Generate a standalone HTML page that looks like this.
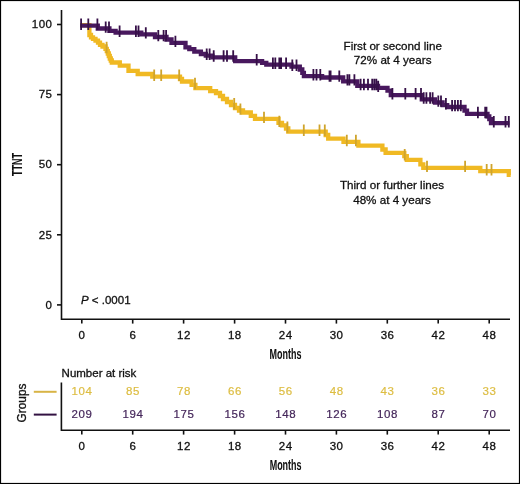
<!DOCTYPE html><html><head><meta charset="utf-8"><style>html,body{margin:0;padding:0;background:#fff;}svg{display:block;will-change:transform;}text{font-family:"Liberation Sans",sans-serif;}</style></head><body>
<svg width="520" height="484" viewBox="0 0 520 484">
<rect x="0" y="0" width="520" height="484" fill="#fff"/>
<rect x="0.5" y="0.5" width="519" height="483" fill="none" stroke="#000" stroke-width="1.2"/>
<g stroke="#111" stroke-width="1.6" fill="none">
<path d="M61.5 10 V319.2 H510"/>
<path d="M57 24.5 H61.4"/>
<path d="M57 94.6 H61.4"/>
<path d="M57 164.7 H61.4"/>
<path d="M57 234.8 H61.4"/>
<path d="M57 304.9 H61.4"/>
<path d="M81.8 319.2 V323.6"/>
<path d="M132.7 319.2 V323.6"/>
<path d="M183.6 319.2 V323.6"/>
<path d="M234.6 319.2 V323.6"/>
<path d="M285.5 319.2 V323.6"/>
<path d="M336.4 319.2 V323.6"/>
<path d="M387.3 319.2 V323.6"/>
<path d="M438.2 319.2 V323.6"/>
<path d="M489.2 319.2 V323.6"/>
</g>
<g font-size="11.5" fill="#111" stroke="#111" stroke-width="0.3" text-anchor="end" letter-spacing="0.5">
<text x="52.5" y="28.2">100</text>
<text x="52.5" y="98.3">75</text>
<text x="52.5" y="168.4">50</text>
<text x="52.5" y="238.5">25</text>
<text x="52.5" y="308.6">0</text>
</g>
<g font-size="11.5" fill="#111" stroke="#111" stroke-width="0.3" text-anchor="middle" letter-spacing="0.5">
<text x="82.0" y="339">0</text>
<text x="133.0" y="339">6</text>
<text x="183.9" y="339">12</text>
<text x="234.8" y="339">18</text>
<text x="285.7" y="339">24</text>
<text x="336.6" y="339">30</text>
<text x="387.6" y="339">36</text>
<text x="438.5" y="339">42</text>
<text x="489.4" y="339">48</text>
</g>
<text font-size="14.6" font-weight="bold" fill="#111" stroke="#111" stroke-width="0.05" text-anchor="middle" transform="translate(285.5 358.7) scale(0.615 1)">Months</text>
<text font-size="14.6" font-weight="bold" fill="#111" stroke="#111" stroke-width="0.05" text-anchor="middle" transform="translate(22.4 164.5) rotate(-90) scale(0.615 1)">TTNT</text>
<text x="81" y="303.8" font-size="11.5" fill="#111" stroke="#111" stroke-width="0.3"><tspan font-style="italic">P</tspan> &lt; .0001</text>
<g font-size="11.65" fill="#111" stroke="#111" stroke-width="0.3" text-anchor="middle">
<text x="392.7" y="49.7">First or second line</text>
<text x="392.7" y="64.2">72% at 4 years</text>
<text x="392" y="189">Third or further lines</text>
<text x="392" y="203.8">48% at 4 years</text>
</g>
<path d="M80.3 25.2 L89.4 25.2 L89.4 35.0 L91.0 35.0 L91.0 37.3 L93.0 37.3 L93.0 38.9 L95.5 38.9 L95.5 40.7 L98.0 40.7 L98.0 42.6 L100.0 42.6 L100.0 44.8 L102.5 44.8 L102.5 46.5 L105.5 46.5 L105.5 48.9 L106.8 48.9 L106.8 51.2 L107.8 51.2 L107.8 53.5 L108.8 53.5 L108.8 56.0 L109.8 56.0 L109.8 58.5 L110.8 58.5 L110.8 60.5 L111.8 60.5 L111.8 62.5 L119.8 62.5 L119.8 65.7 L128.5 65.7 L128.5 70.9 L137.7 70.9 L137.7 74.0 L152.3 74.0 L152.3 76.6 L180.0 76.6 L180.0 79.0 L182.0 79.0 L182.0 81.5 L191.6 81.5 L191.6 84.9 L195.4 84.9 L195.4 88.2 L210.2 88.2 L210.2 91.2 L216.0 91.2 L216.0 93.0 L220.0 93.0 L220.0 96.0 L223.0 96.0 L223.0 99.0 L227.0 99.0 L227.0 102.0 L231.0 102.0 L231.0 105.0 L235.0 105.0 L235.0 108.0 L239.0 108.0 L239.0 110.5 L243.0 110.5 L243.0 112.5 L250.8 112.5 L250.8 115.8 L255.0 115.8 L255.0 118.8 L278.5 118.8 L278.5 122.8 L282.0 122.8 L282.0 125.3 L286.0 125.3 L286.0 128.5 L288.3 128.5 L288.3 131.7 L325.7 131.7 L325.7 135.0 L328.2 135.0 L328.2 138.6 L343.5 138.6 L343.5 141.9 L358.4 141.9 L358.4 145.7 L382.4 145.7 L382.4 149.5 L385.6 149.5 L385.6 152.9 L404.3 152.9 L404.3 156.2 L406.8 156.2 L406.8 159.9 L420.4 159.9 L420.4 164.4 L423.3 164.4 L423.3 167.8 L480.3 167.8 L480.3 171.2 L508.8 171.2 L508.8 174.9 L510.7 174.9" fill="none" stroke="#F0B923" stroke-width="4.3" stroke-linejoin="miter"/>
<path d="M106.6 41.8v11.4M154.2 69.5v11.4M161.2 69.5v11.4M179.2 69.5v11.4M195.0 77.8v11.4M234.2 97.9v11.4M240.4 103.4v11.4M264.0 111.7v11.4M279.3 115.7v11.4M287.4 121.4v11.4M303.8 124.6v11.4M319.5 124.6v11.4M324.8 124.6v11.4M346.8 134.8v11.4M355.9 134.8v11.4M404.7 149.1v11.4M427.0 160.7v11.4M465.1 160.7v11.4M486.7 164.1v11.4M491.5 164.1v11.4" stroke="#CFA42C" stroke-width="1.8"/>
<path d="M80.3 25.6 L97.8 25.6 L97.8 28.5 L109.4 28.5 L109.4 30.8 L115.6 30.8 L115.6 32.7 L141.3 32.7 L141.3 34.3 L155.0 34.3 L155.0 37.0 L166.5 37.0 L166.5 39.5 L171.5 39.5 L171.5 42.8 L185.5 42.8 L185.5 47.4 L189.3 47.4 L189.3 49.1 L194.3 49.1 L194.3 51.6 L200.9 51.6 L200.9 54.0 L205.8 54.0 L205.8 55.7 L212.4 55.7 L212.4 57.4 L235.2 57.4 L235.2 61.2 L262.1 61.2 L262.1 62.8 L266.3 62.8 L266.3 64.6 L291.5 64.6 L291.5 66.6 L299.8 66.6 L299.8 69.5 L302.3 69.5 L302.3 72.8 L303.9 72.8 L303.9 76.1 L322.1 76.1 L322.1 77.5 L343.2 77.5 L343.2 81.3 L357.3 81.3 L357.3 85.9 L378.0 85.9 L378.0 87.8 L387.5 87.8 L387.5 90.7 L390.8 90.7 L390.8 95.2 L421.8 95.2 L421.8 99.4 L435.0 99.4 L435.0 102.5 L442.6 102.5 L442.6 105.1 L447.2 105.1 L447.2 107.0 L464.5 107.0 L464.5 110.7 L467.0 110.7 L467.0 113.9 L487.5 113.9 L487.5 116.4 L489.3 116.4 L489.3 119.1 L491.0 119.1 L491.0 123.2 L509.5 123.2" fill="none" stroke="#48185E" stroke-width="4.3" stroke-linejoin="miter"/>
<path d="M81.1 18.5v11.4M88.3 18.5v11.4M97.4 18.5v11.4M105.7 21.4v11.4M109.0 21.4v11.4M119.6 25.6v11.4M135.9 25.6v11.4M138.5 25.6v11.4M145.8 27.2v11.4M158.3 29.9v11.4M163.6 29.9v11.4M166.1 29.9v11.4M175.4 35.7v11.4M206.7 48.6v11.4M209.6 48.6v11.4M213.7 50.3v11.4M223.6 50.3v11.4M227.0 50.3v11.4M233.2 50.3v11.4M256.7 54.1v11.4M272.9 57.5v11.4M275.3 57.5v11.4M279.3 57.5v11.4M281.1 57.5v11.4M286.1 57.5v11.4M292.3 59.5v11.4M296.5 59.5v11.4M313.4 69.0v11.4M316.5 69.0v11.4M320.3 69.0v11.4M329.5 70.4v11.4M330.6 70.4v11.4M339.3 70.4v11.4M347.4 74.2v11.4M349.4 74.2v11.4M354.4 74.2v11.4M360.6 78.8v11.4M363.9 78.8v11.4M368.0 78.8v11.4M372.2 78.8v11.4M374.3 78.8v11.4M376.3 78.8v11.4M378.2 80.7v11.4M392.4 88.1v11.4M405.3 88.1v11.4M415.6 88.1v11.4M421.0 88.1v11.4M423.7 92.3v11.4M426.4 92.3v11.4M430.1 92.3v11.4M432.6 92.3v11.4M438.3 95.4v11.4M441.0 95.4v11.4M445.9 98.0v11.4M452.1 99.9v11.4M455.0 99.9v11.4M457.9 99.9v11.4M460.8 99.9v11.4M477.9 106.8v11.4M485.2 106.8v11.4M486.5 106.8v11.4M493.8 116.1v11.4M505.5 116.1v11.4M508.8 116.1v11.4" stroke="#361048" stroke-width="1.8"/>
<g stroke="#111" stroke-width="1.6" fill="none">
<path d="M61.4 382.5 V430.2 H510"/>
<path d="M81.8 430.2 V434.6"/>
<path d="M132.7 430.2 V434.6"/>
<path d="M183.6 430.2 V434.6"/>
<path d="M234.6 430.2 V434.6"/>
<path d="M285.5 430.2 V434.6"/>
<path d="M336.4 430.2 V434.6"/>
<path d="M387.3 430.2 V434.6"/>
<path d="M438.2 430.2 V434.6"/>
<path d="M489.2 430.2 V434.6"/>
</g>
<path d="M33.8 391.8 H56.6" stroke="#D8B446" stroke-width="2"/>
<path d="M33.8 414.6 H56.6" stroke="#321242" stroke-width="2"/>
<text x="61.6" y="377.3" font-size="11.5" fill="#111" stroke="#111" stroke-width="0.3">Number at risk</text>
<text font-size="11.9" fill="#111" stroke="#111" stroke-width="0.3" text-anchor="middle" transform="translate(25.8 403) rotate(-90)">Groups</text>
<g font-size="11.5" text-anchor="middle" fill="#DDBD42" stroke="#DDBD42" stroke-width="0.2" letter-spacing="0.6">
<text x="82.1" y="395.4">104</text>
<text x="133.0" y="395.4">85</text>
<text x="183.9" y="395.4">78</text>
<text x="234.9" y="395.4">66</text>
<text x="285.8" y="395.4">56</text>
<text x="336.7" y="395.4">48</text>
<text x="387.6" y="395.4">43</text>
<text x="438.5" y="395.4">36</text>
<text x="489.5" y="395.4">33</text>
</g>
<g font-size="11.5" text-anchor="middle" fill="#44265A" stroke="#44265A" stroke-width="0.2" letter-spacing="0.6">
<text x="82.1" y="418">209</text>
<text x="133.0" y="418">194</text>
<text x="183.9" y="418">175</text>
<text x="234.9" y="418">156</text>
<text x="285.8" y="418">148</text>
<text x="336.7" y="418">126</text>
<text x="387.6" y="418">108</text>
<text x="438.5" y="418">87</text>
<text x="489.5" y="418">70</text>
</g>
<g font-size="11.5" fill="#111" stroke="#111" stroke-width="0.3" text-anchor="middle" letter-spacing="0.5">
<text x="82.0" y="450.4">0</text>
<text x="133.0" y="450.4">6</text>
<text x="183.9" y="450.4">12</text>
<text x="234.8" y="450.4">18</text>
<text x="285.7" y="450.4">24</text>
<text x="336.6" y="450.4">30</text>
<text x="387.6" y="450.4">36</text>
<text x="438.5" y="450.4">42</text>
<text x="489.4" y="450.4">48</text>
</g>
<text font-size="14.6" font-weight="bold" fill="#111" stroke="#111" stroke-width="0.05" text-anchor="middle" transform="translate(285.6 470.2) scale(0.615 1)">Months</text>
</svg></body></html>
